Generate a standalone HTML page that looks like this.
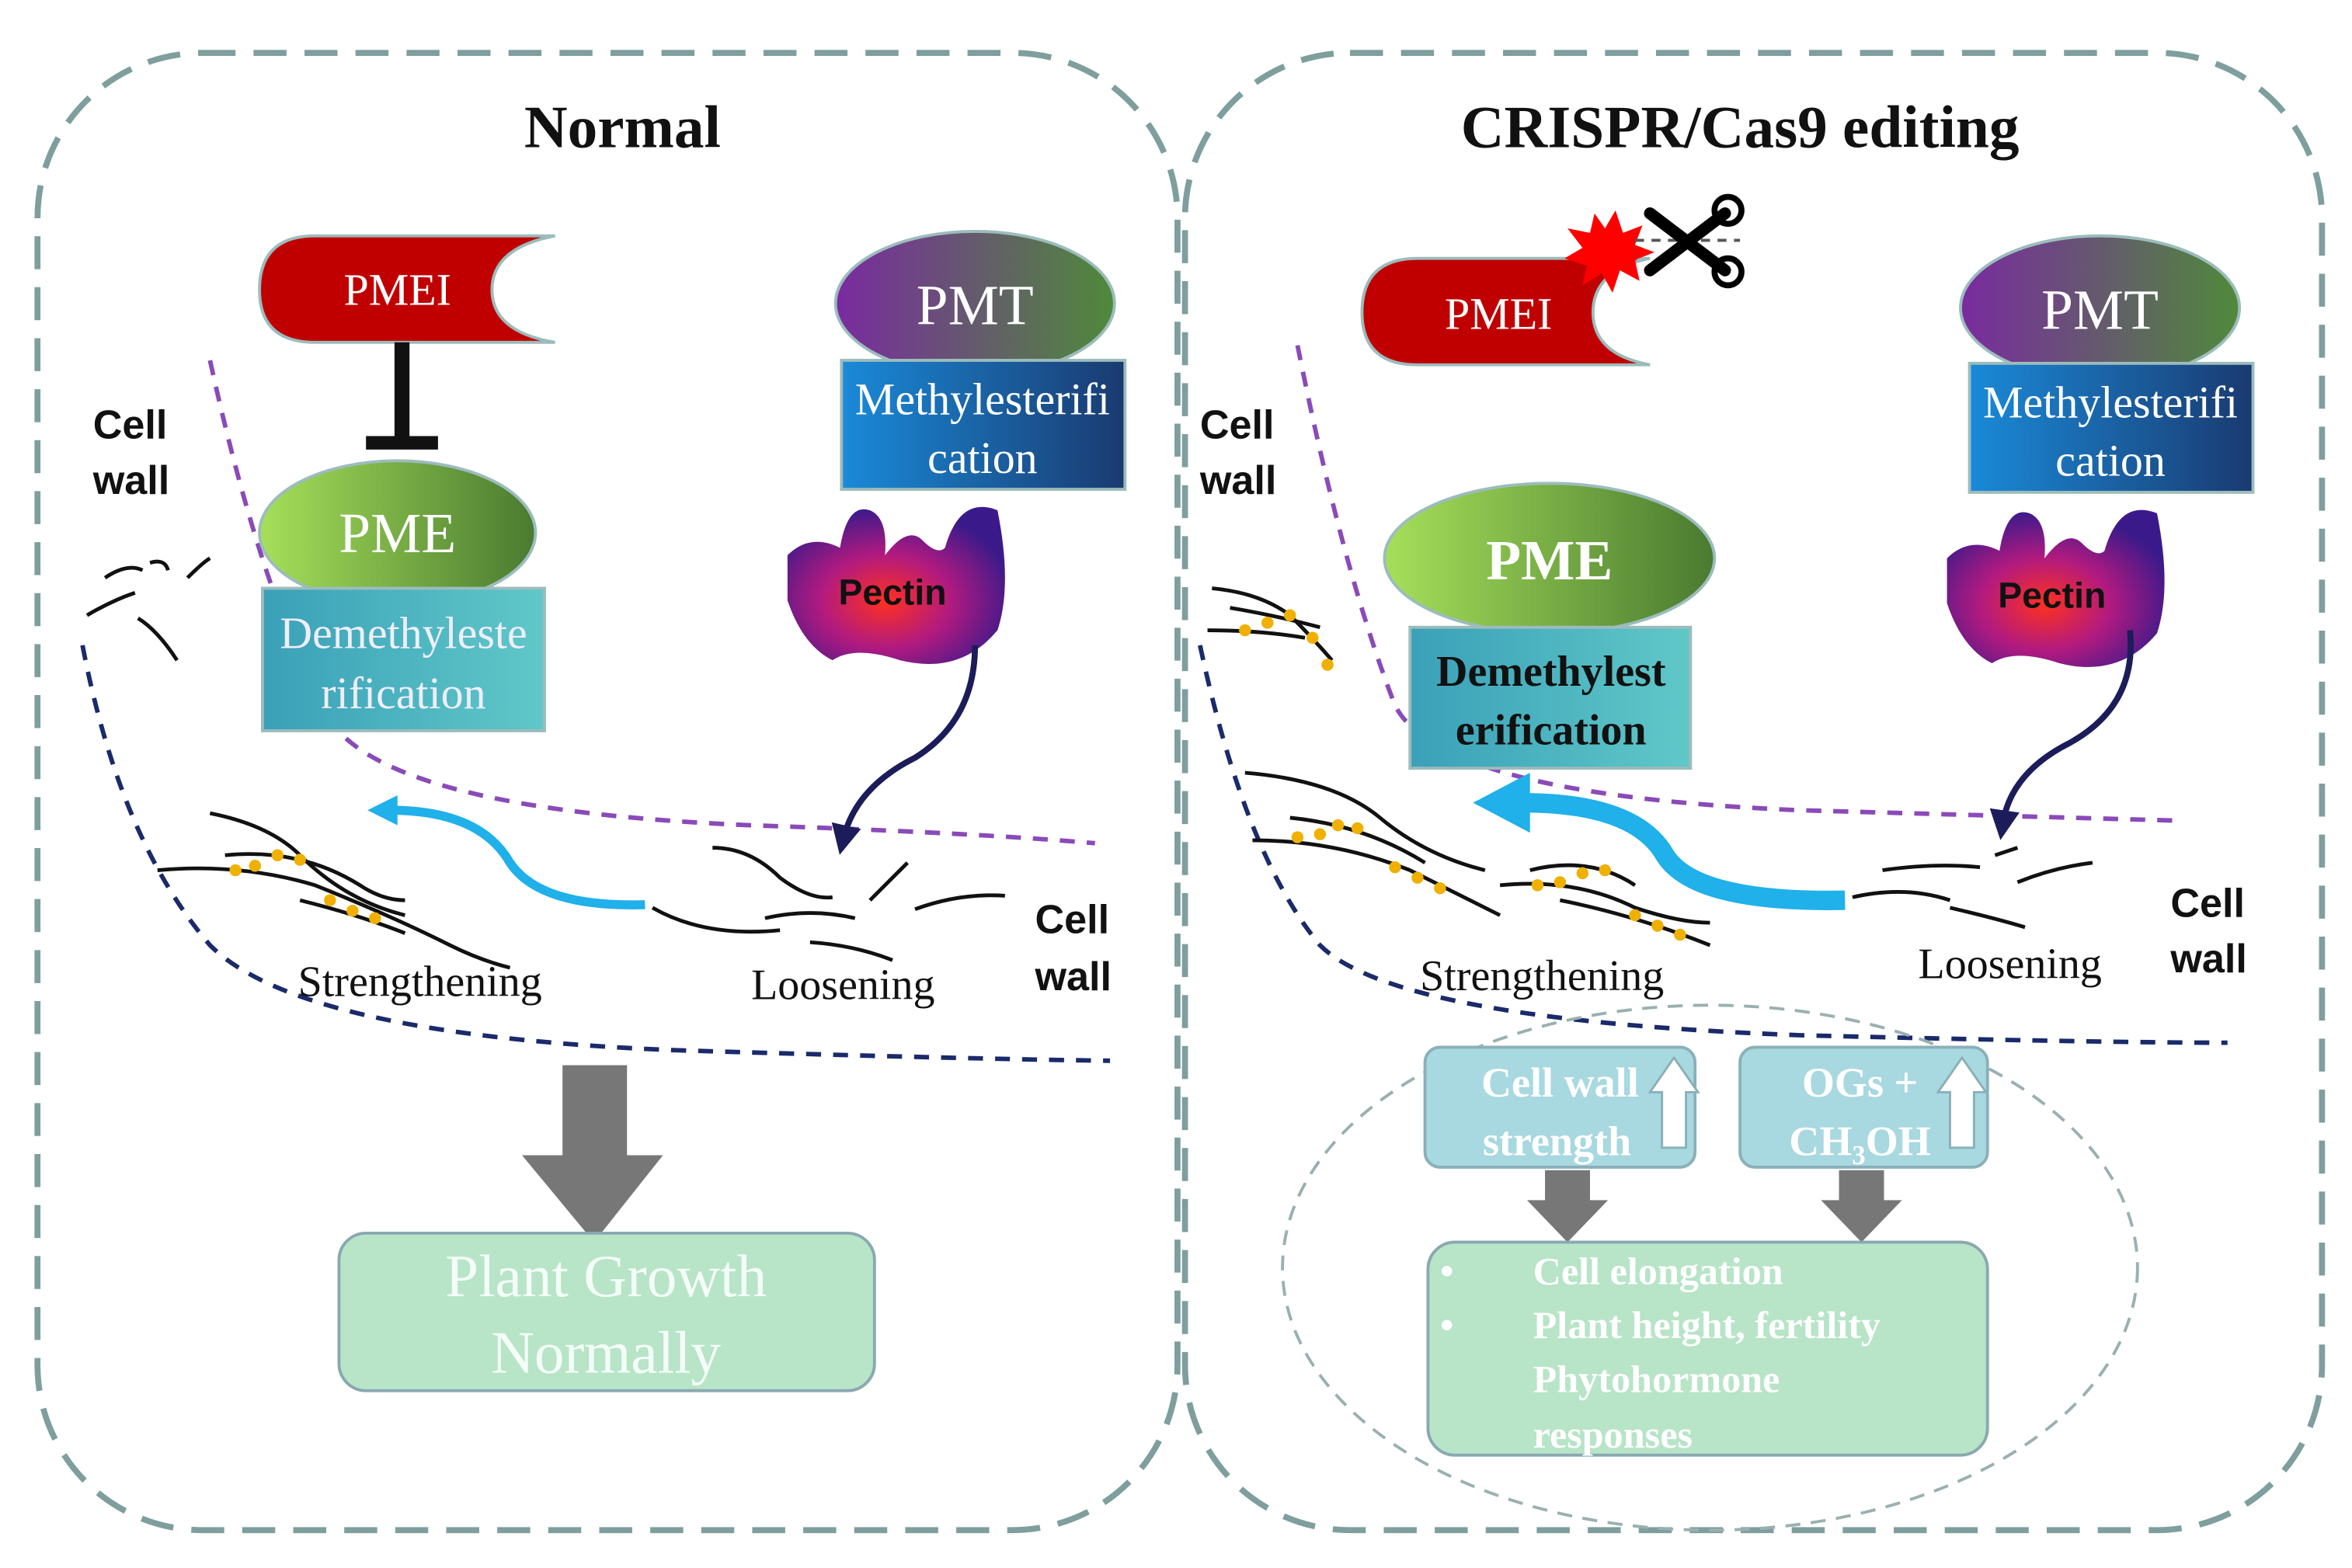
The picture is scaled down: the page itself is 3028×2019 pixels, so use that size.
<!DOCTYPE html>
<html><head><meta charset="utf-8"><style>html,body{margin:0;padding:0;background:#fff}svg{display:block}</style></head>
<body>
<svg width="3028" height="2019" viewBox="0 0 1568 1045" xmlns="http://www.w3.org/2000/svg">
<defs>
<linearGradient id="gPME" x1="0" x2="1"><stop offset="0" stop-color="#a6e05a"/><stop offset="1" stop-color="#4a7a30"/></linearGradient>
<linearGradient id="gPMT" x1="0" x2="1"><stop offset="0" stop-color="#7a2aa0"/><stop offset="1" stop-color="#4f8a3a"/></linearGradient>
<linearGradient id="gMet" x1="0" x2="1"><stop offset="0" stop-color="#1a8ad8"/><stop offset="1" stop-color="#1a3a70"/></linearGradient>
<linearGradient id="gDem" x1="0" x2="1"><stop offset="0" stop-color="#3aa0b8"/><stop offset="1" stop-color="#60c8c8"/></linearGradient>
<radialGradient id="gPec" cx="0.45" cy="0.6" r="0.6"><stop offset="0" stop-color="#ff3020"/><stop offset="0.5" stop-color="#b01a80"/><stop offset="1" stop-color="#3a1a8a"/></radialGradient>
<marker id="ah" markerWidth="5" markerHeight="5" refX="2.5" refY="2.5" orient="auto"><path d="M0,0 L5,2.5 L0,5z" fill="#1c1c5a"/></marker>
</defs>
<g fill="none" stroke="#7f9e9e" stroke-width="4" stroke-dasharray="22 12">
<rect x="25" y="35" width="760" height="985" rx="110"/>
<rect x="790" y="35" width="758" height="985" rx="110"/>
</g>
<!-- dashed cell wall curves (behind) -->
<path d="M140,240 Q175,400 220,480 Q260,540 500,550 Q650,555 730,562" fill="none" stroke="#8a4ab8" stroke-width="3" stroke-dasharray="10 8"/>
<path d="M55,430 Q80,560 140,630 Q200,690 450,700 Q650,706 740,707" fill="none" stroke="#1a2a6a" stroke-width="3" stroke-dasharray="10 8"/>
<path d="M865,230 Q895,380 930,470 Q960,530 1200,540 Q1380,545 1455,547" fill="none" stroke="#8a4ab8" stroke-width="3" stroke-dasharray="10 8"/>
<path d="M800,430 Q830,570 880,630 Q930,680 1200,690 Q1400,695 1485,695" fill="none" stroke="#1a2a6a" stroke-width="3" stroke-dasharray="10 8"/>

<g font-family="Liberation Serif, serif" font-weight="bold" font-size="40" text-anchor="middle" fill="#111">
<text x="415" y="98">Normal</text><text x="1160" y="98">CRISPR/Cas9 editing</text></g>

<!-- LEFT -->
<path d="M210,157 H370 Q328,165 328,193 Q328,221 370,228 H210 Q173,228 173,193 Q173,157 210,157Z" fill="#c00000" stroke="#9cbcbc" stroke-width="2"/>
<text x="265" y="203" font-family="Liberation Serif, serif" font-size="30" fill="#fff" text-anchor="middle">PMEI</text>
<line x1="268" y1="228" x2="268" y2="293" stroke="#111" stroke-width="10"/><line x1="244" y1="295" x2="292" y2="295" stroke="#111" stroke-width="9"/>
<ellipse cx="265" cy="355" rx="92" ry="48" fill="url(#gPME)" stroke="#9cbcbc" stroke-width="2"/>
<text x="265" y="368" font-family="Liberation Serif, serif" font-size="38" fill="#fff" text-anchor="middle">PME</text>
<rect x="175" y="392" width="188" height="95" fill="url(#gDem)" stroke="#9cbcbc" stroke-width="2"/>
<g font-family="Liberation Serif, serif" font-size="30" fill="#eef" text-anchor="middle"><text x="269" y="432">Demethyleste</text><text x="269" y="472">rification</text></g>
<ellipse cx="650" cy="202" rx="93" ry="48" fill="url(#gPMT)" stroke="#9cbcbc" stroke-width="2"/>
<text x="650" y="216" font-family="Liberation Serif, serif" font-size="38" fill="#fff" text-anchor="middle">PMT</text>
<rect x="561" y="240" width="189" height="86" fill="url(#gMet)" stroke="#9cbcbc" stroke-width="2"/>
<g font-family="Liberation Serif, serif" font-size="30" fill="#fff" text-anchor="middle"><text x="655" y="276">Methylesterifi</text><text x="655" y="315">cation</text></g>
<path d="M525,370 Q540,355 560,365 Q565,335 580,340 Q592,345 590,370 Q605,350 615,360 Q625,370 630,365 Q640,330 665,340 Q675,390 665,420 Q640,450 600,440 Q570,430 555,440 Q535,430 525,400Z" fill="url(#gPec)"/>
<text x="595" y="403" font-family="Liberation Sans, sans-serif" font-weight="bold" font-size="24" fill="#111" text-anchor="middle">Pectin</text>
<path d="M650,430 Q650,480 610,505 Q570,525 562,560" fill="none" stroke="#1c1c5a" stroke-width="4" marker-end="url(#ah)"/>
<g font-family="Liberation Sans, sans-serif" font-weight="bold" font-size="27" fill="#111">
<text x="62" y="292">Cell</text><text x="62" y="329">wall</text><text x="690" y="622">Cell</text><text x="690" y="660">wall</text>
<text x="800" y="292">Cell</text><text x="800" y="329">wall</text><text x="1447" y="611">Cell</text><text x="1447" y="648">wall</text></g>
<g fill="none" stroke="#111" stroke-width="2.5">
<path d="M70,385 Q85,375 95,380"/><path d="M100,375 Q110,372 112,380"/><path d="M125,385 Q135,375 140,372"/><path d="M58,410 Q75,400 90,395"/><path d="M92,412 Q105,420 118,440"/>
<path d="M140,542 Q180,550 200,570 Q230,600 270,610"/><path d="M105,580 Q160,575 210,590 Q260,610 300,630 Q320,640 340,645"/><path d="M150,570 Q200,565 240,590 Q255,600 270,600"/><path d="M200,600 Q240,610 270,622"/>
<path d="M435,605 Q470,625 520,620"/><path d="M475,565 Q500,565 520,585 Q540,600 555,598"/><path d="M510,612 Q540,605 570,612"/><path d="M580,600 Q600,580 605,575"/><path d="M540,628 Q570,630 595,640"/><path d="M610,606 Q640,595 670,597"/></g>
<g fill="#f0b000"><circle cx="157" cy="580" r="4"/><circle cx="170" cy="577" r="4"/><circle cx="185" cy="570" r="4"/><circle cx="200" cy="573" r="4"/><circle cx="220" cy="600" r="4"/><circle cx="235" cy="607" r="4"/><circle cx="250" cy="612" r="4"/></g>
<path d="M430,603 Q360,605 340,575 Q320,540 260,540" fill="none" stroke="#20b0ea" stroke-width="6"/>
<path d="M245,540 L265,530 L265,550Z" fill="#20b0ea"/>
<g font-family="Liberation Serif, serif" font-size="29" fill="#111" text-anchor="middle"><text x="280" y="664">Strengthening</text><text x="562" y="666">Loosening</text><text x="1028" y="660">Strengthening</text><text x="1340" y="652">Loosening</text></g>
<rect x="375" y="710" width="43" height="62" fill="#777"/><path d="M348,770 H442 L396,828Z" fill="#777"/>
<rect x="226" y="822" width="357" height="105" rx="18" fill="#b8e4c8" stroke="#8aa8b0" stroke-width="2"/>
<g font-family="Liberation Serif, serif" font-size="40" fill="#f4fff8" text-anchor="middle"><text x="404" y="864">Plant Growth</text><text x="404" y="915">Normally</text></g>

<!-- RIGHT -->
<path d="M945,172 H1100 Q1062,180 1062,208 Q1062,236 1100,243 H945 Q908,243 908,208 Q908,172 945,172Z" fill="#c00000" stroke="#9cbcbc" stroke-width="2"/>
<text x="999" y="219" font-family="Liberation Serif, serif" font-size="30" fill="#fff" text-anchor="middle">PMEI</text>
<path d="M1077,140 L1082,155 L1095,150 L1090,163 L1103,168 L1090,173 L1093,187 L1080,180 L1075,195 L1068,182 L1055,190 L1058,177 L1043,172 L1055,165 L1045,152 L1060,155 L1063,142 L1070,152Z" fill="#f00"/>
<line x1="1090" y1="160" x2="1160" y2="160" stroke="#555" stroke-width="2" stroke-dasharray="6 5"/>
<g stroke="#000" fill="none"><line x1="1100" y1="142" x2="1150" y2="180" stroke-width="8" stroke-linecap="round"/><line x1="1100" y1="180" x2="1150" y2="142" stroke-width="8" stroke-linecap="round"/><circle cx="1152" cy="140" r="9" stroke-width="4"/><circle cx="1152" cy="181" r="9" stroke-width="4"/></g>
<ellipse cx="1400" cy="205" rx="93" ry="48" fill="url(#gPMT)" stroke="#9cbcbc" stroke-width="2"/>
<text x="1400" y="219" font-family="Liberation Serif, serif" font-size="38" fill="#fff" text-anchor="middle">PMT</text>
<rect x="1313" y="242" width="189" height="86" fill="url(#gMet)" stroke="#9cbcbc" stroke-width="2"/>
<g font-family="Liberation Serif, serif" font-size="30" fill="#fff" text-anchor="middle"><text x="1407" y="278">Methylesterifi</text><text x="1407" y="317">cation</text></g>
<ellipse cx="1033" cy="372" rx="110" ry="50" fill="url(#gPME)" stroke="#9cbcbc" stroke-width="2"/>
<text x="1033" y="386" font-family="Liberation Serif, serif" font-weight="bold" font-size="38" fill="#fff" text-anchor="middle">PME</text>
<rect x="940" y="418" width="187" height="94" fill="url(#gDem)" stroke="#9cbcbc" stroke-width="2"/>
<g font-family="Liberation Serif, serif" font-weight="bold" font-size="29" fill="#111" text-anchor="middle"><text x="1034" y="457">Demethylest</text><text x="1034" y="496">erification</text></g>
<path d="M1298,372 Q1313,357 1333,367 Q1338,337 1353,342 Q1365,347 1363,372 Q1378,352 1388,362 Q1398,372 1403,367 Q1413,332 1438,342 Q1448,392 1438,422 Q1413,452 1373,442 Q1343,432 1328,442 Q1308,432 1298,402Z" fill="url(#gPec)"/>
<text x="1368" y="405" font-family="Liberation Sans, sans-serif" font-weight="bold" font-size="24" fill="#111" text-anchor="middle">Pectin</text>
<path d="M1420,420 Q1425,470 1380,495 Q1340,515 1335,550" fill="none" stroke="#1c1c5a" stroke-width="4" marker-end="url(#ah)"/>
<g fill="none" stroke="#111" stroke-width="2.5">
<path d="M808,392 Q840,395 860,410 Q875,425 888,440"/><path d="M805,420 Q840,420 870,425"/><path d="M820,405 Q850,410 880,418"/>
<path d="M830,515 Q890,520 920,545 Q950,570 990,580"/><path d="M835,560 Q890,560 940,580 Q980,600 1000,610"/><path d="M860,545 Q910,550 950,575"/>
<path d="M1000,590 Q1050,585 1090,605 Q1120,615 1140,615"/><path d="M1020,580 Q1060,570 1090,590"/><path d="M1040,600 Q1090,610 1140,630"/>
<path d="M1235,598 Q1270,590 1300,600"/><path d="M1255,580 Q1290,575 1320,578"/><path d="M1300,605 Q1330,612 1350,618"/><path d="M1345,588 Q1370,578 1395,575"/><path d="M1330,570 L1345,565"/></g>
<g fill="#f0b000"><circle cx="830" cy="420" r="4"/><circle cx="845" cy="415" r="4"/><circle cx="860" cy="410" r="4"/><circle cx="875" cy="425" r="4"/><circle cx="885" cy="443" r="4"/>
<circle cx="865" cy="558" r="4"/><circle cx="880" cy="556" r="4"/><circle cx="892" cy="550" r="4"/><circle cx="905" cy="552" r="4"/><circle cx="930" cy="578" r="4"/><circle cx="945" cy="585" r="4"/><circle cx="960" cy="592" r="4"/>
<circle cx="1025" cy="590" r="4"/><circle cx="1040" cy="588" r="4"/><circle cx="1055" cy="582" r="4"/><circle cx="1070" cy="580" r="4"/><circle cx="1090" cy="610" r="4"/><circle cx="1105" cy="617" r="4"/><circle cx="1120" cy="623" r="4"/></g>
<path d="M1230,600 Q1130,602 1110,570 Q1090,535 1015,535" fill="none" stroke="#20b0ea" stroke-width="13"/>
<path d="M982,535 L1020,515 L1020,555Z" fill="#20b0ea"/>
<ellipse cx="1140" cy="845" rx="285" ry="175" fill="none" stroke="#9ab0b0" stroke-width="2" stroke-dasharray="10 7"/>
<rect x="950" y="698" width="180" height="80" rx="10" fill="#a8d8e0" stroke="#8ab0b8" stroke-width="2"/>
<rect x="1160" y="698" width="165" height="80" rx="10" fill="#a8d8e0" stroke="#8ab0b8" stroke-width="2"/>
<g font-family="Liberation Serif, serif" font-weight="bold" font-size="28" fill="#fff" text-anchor="middle">
<text x="1040" y="731">Cell wall</text><text x="1038" y="770">strength</text><text x="1240" y="731">OGs +</text><text x="1240" y="770">CH<tspan font-size="18" dy="6">3</tspan><tspan dy="-6">OH</tspan></text></g>
<g fill="#fff" stroke="#8ab0b8" stroke-width="1.5"><path d="M1108,765 V728 H1100 L1116,705 L1132,728 H1124 V765Z"/><path d="M1300,765 V728 H1292 L1308,705 L1324,728 H1316 V765Z"/></g>
<rect x="1030" y="780" width="30" height="22" fill="#777"/><path d="M1018,800 H1072 L1045,828Z" fill="#777"/>
<rect x="1226" y="780" width="30" height="22" fill="#777"/><path d="M1214,800 H1268 L1241,828Z" fill="#777"/>
<rect x="952" y="828" width="373" height="142" rx="18" fill="#b8e4c8" stroke="#8aa8b0" stroke-width="2"/>
<g font-family="Liberation Serif, serif" font-weight="bold" font-size="26" fill="#fff">
<text x="960" y="856">•</text><text x="1022" y="856">Cell elongation</text><text x="960" y="892">•</text><text x="1022" y="892">Plant height, fertility</text><text x="1022" y="928">Phytohormone</text><text x="1022" y="965">responses</text></g>
</svg>
</body></html>
